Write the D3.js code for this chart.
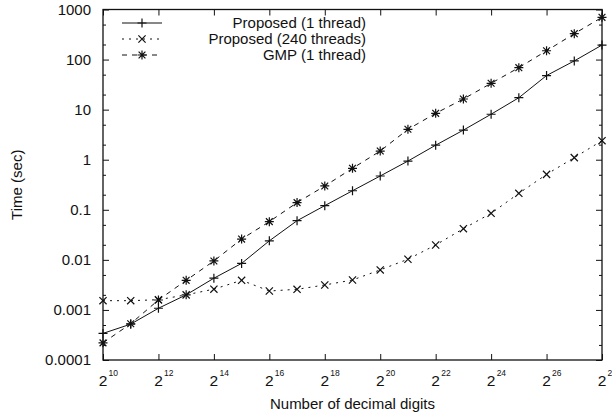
<!DOCTYPE html>
<html>
<head>
<meta charset="utf-8">
<script src="https://cdn.jsdelivr.net/npm/d3@7"></script>
<style>
  html, body { margin: 0; padding: 0; background: #fff; }
  svg { display: block; font-family: "Liberation Sans", Arial, sans-serif; }
</style>
</head>
<body>
<svg id="chart" width="612" height="417"></svg>
<script>
// ---- data (x = 2^exponent decimal digits, y = time in seconds) ----
const exponents = [10, 11, 12, 13, 14, 15, 16, 17, 18, 19, 20, 21, 22, 23, 24, 25, 26, 27, 28];
const proposed1 = [0.00034, 0.00052, 0.00108, 0.0020, 0.0043, 0.0085, 0.024, 0.0605, 0.121, 0.24, 0.473, 0.94, 1.95, 3.9, 8.1, 17.3, 48, 94, 195];
const proposed240 = [0.00153, 0.00153, 0.0016, 0.0020, 0.0026, 0.0039, 0.00239, 0.00258, 0.00315, 0.00396, 0.0063, 0.0103, 0.0198, 0.042, 0.085, 0.213, 0.51, 1.1, 2.4];
const gmp = [0.00022, 0.00053, 0.00158, 0.0039, 0.0095, 0.026, 0.058, 0.139, 0.299, 0.673, 1.49, 4.05, 8.45, 16.3, 33.6, 68.9, 150, 329, 698];
const seriesNames = ["Proposed (1 thread)", "Proposed (240 threads)", "GMP (1 thread)"];
const xTickExponents = [10, 12, 14, 16, 18, 20, 22, 24, 26, 28];
const yTickValues = [0.0001, 0.001, 0.01, 0.1, 1, 10, 100, 1000];
const yTickLabels = ["0.0001", "0.001", "0.01", "0.1", "1", "10", "100", "1000"];
const yMinorMultipliers = [2, 5];
const xTitle = "Number of decimal digits";
const yTitle = "Time (sec)";

// ---- layout ----
const L = 103, R = 602, T = 9.5, B = 360;
const svg = d3.select("#chart");
const x = d3.scaleLog().base(2).domain([2 ** 10, 2 ** 28]).range([L, R]);
const y = d3.scaleLog().base(10).domain([1e-4, 1e3]).range([B, T]);
const ink = "#111";

// minor y ticks
const yMinor = [];
yTickValues.slice(0, -1).forEach(v => yMinorMultipliers.forEach(m => yMinor.push(v * m)));

function styleAxis(g) {
  g.select(".domain").remove();
  g.selectAll(".tick line").attr("stroke", ink).attr("stroke-width", 1);
  g.selectAll("text").attr("fill", ink).attr("font-size", 15)
    .attr("font-family", "'Liberation Sans', Arial, sans-serif");
}

// y axes (ticks inward)
svg.append("g").attr("transform", `translate(${L},0)`)
  .call(d3.axisLeft(y).tickValues(yTickValues).tickSize(-6).tickPadding(12)
    .tickFormat((d, i) => yTickLabels[i]))
  .call(styleAxis);
svg.append("g").attr("transform", `translate(${R},0)`)
  .call(d3.axisRight(y).tickValues(yTickValues).tickSize(-6).tickFormat(""))
  .call(styleAxis);
svg.append("g").attr("transform", `translate(${L},0)`)
  .call(d3.axisLeft(y).tickValues(yMinor).tickSize(-3).tickFormat(""))
  .call(styleAxis);
svg.append("g").attr("transform", `translate(${R},0)`)
  .call(d3.axisRight(y).tickValues(yMinor).tickSize(-3).tickFormat(""))
  .call(styleAxis);

// x axes (ticks inward)
const xTickVals = xTickExponents.map(e => 2 ** e);
svg.append("g").attr("transform", `translate(0,${B})`)
  .call(d3.axisBottom(x).tickValues(xTickVals).tickSize(-6).tickFormat(""))
  .call(styleAxis);
svg.append("g").attr("transform", `translate(0,${T})`)
  .call(d3.axisTop(x).tickValues(xTickVals).tickSize(-6).tickFormat(""))
  .call(styleAxis);

// x tick labels 2^n
const xl = svg.append("g").selectAll("text").data(xTickExponents).join("text")
  .attr("x", d => x(2 ** d) - 4.3)
  .attr("y", 385.5)
  .attr("fill", ink)
  .attr("font-size", 15.5);
xl.append("tspan").text("2");
xl.append("tspan").attr("font-size", 8.5).attr("dx", 1.2).attr("dy", -10).text(d => d);

// border
svg.append("rect").attr("x", L).attr("y", T).attr("width", R - L).attr("height", B - T)
  .attr("fill", "none").attr("stroke", ink).attr("stroke-width", 1.3);

// titles
svg.append("text").attr("x", (L + R) / 2).attr("y", 409).attr("text-anchor", "middle")
  .attr("font-size", 15).attr("fill", ink).text(xTitle);
svg.append("text").attr("transform", `translate(22,${(T + B) / 2}) rotate(-90)`)
  .attr("text-anchor", "middle").attr("font-size", 15).attr("fill", ink).text(yTitle);

// markers
const markerPaths = {
  plus: "M-4.5,0H4.5M0,-4.5V4.5",
  cross: "M-3.6,-3.6L3.6,3.6M-3.6,3.6L3.6,-3.6",
  star: "M-4.5,0H4.5M0,-4.5V4.5M-3.4,-3.4L3.4,3.4M-3.4,3.4L3.4,-3.4"
};
const series = [
  { name: seriesNames[0], values: proposed1, dash: null, marker: "plus" },
  { name: seriesNames[1], values: proposed240, dash: "2,5", marker: "cross" },
  { name: seriesNames[2], values: gmp, dash: "5,5", marker: "star" }
];

const line = d3.line().x(d => x(2 ** d.e)).y(d => y(d.v));
series.forEach(s => {
  const pts = exponents.map((e, i) => ({ e, v: s.values[i] }));
  svg.append("path").datum(pts).attr("d", line)
    .attr("fill", "none").attr("stroke", ink).attr("stroke-width", 1)
    .attr("stroke-dasharray", s.dash);
  svg.append("g").selectAll("path").data(pts).join("path")
    .attr("transform", d => `translate(${x(2 ** d.e)},${y(d.v)})`)
    .attr("d", markerPaths[s.marker])
    .attr("fill", "none").attr("stroke", ink).attr("stroke-width", 1.2);
});

// legend
const legY = [23, 39, 55];
const leg = svg.append("g");
series.forEach((s, i) => {
  leg.append("line").attr("x1", 122).attr("x2", 162).attr("y1", legY[i]).attr("y2", legY[i])
    .attr("stroke", ink).attr("stroke-width", 1).attr("stroke-dasharray", s.dash);
  leg.append("path").attr("transform", `translate(142,${legY[i]})`)
    .attr("d", markerPaths[s.marker]).attr("fill", "none").attr("stroke", ink).attr("stroke-width", 1.2);
  leg.append("text").attr("x", 366).attr("y", legY[i]).attr("dy", "0.35em")
    .attr("text-anchor", "end").attr("font-size", 15).attr("fill", ink).text(s.name);
});
</script>
</body>
</html>
